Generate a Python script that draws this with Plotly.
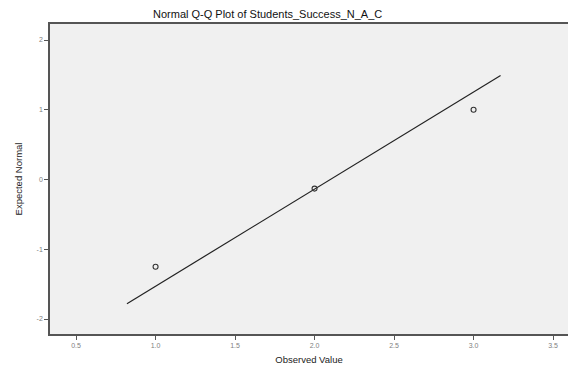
import plotly.graph_objects as go

# Data
observed = [1.0, 2.0, 3.0]
expected = [-1.25, -0.13, 1.0]
line_x = [0.82, 3.17]
line_y = [-1.78, 1.49]
x_ticks = [0.5, 1.0, 1.5, 2.0, 2.5, 3.0, 3.5]
x_tick_labels = ["0.5", "1.0", "1.5", "2.0", "2.5", "3.0", "3.5"]
y_ticks = [-2, -1, 0, 1, 2]
y_tick_labels = ["-2", "-1", "0", "1", "2"]

fig = go.Figure()
fig.add_trace(go.Scatter(
    x=line_x, y=line_y, mode="lines",
    line=dict(color="#222222", width=1.2), showlegend=False, hoverinfo="skip"))
fig.add_trace(go.Scatter(
    x=observed, y=expected, mode="markers",
    marker=dict(symbol="circle-open", size=5, color="#333333", line=dict(width=1.1)),
    showlegend=False))

W, H = 568, 373
L, R, T, B = 50, 0, 24, 39

fig.update_layout(
    width=W, height=H,
    margin=dict(l=L, r=R, t=T, b=B),
    paper_bgcolor="white",
    plot_bgcolor="#f0f0f0",
    font=dict(family="Liberation Sans, Arial, sans-serif", color="#222222"),
    xaxis=dict(
        range=[0.336, 3.594], tickvals=x_ticks, ticktext=x_tick_labels,
        showgrid=False, zeroline=False,
        showline=True, linecolor="#555555", linewidth=1.5, mirror=True,
        ticks="outside", ticklen=4, tickcolor="#555555",
        tickfont=dict(size=7, color="#808080"),
        title=dict(text="Observed Value", font=dict(size=9.5, color="#222222"), standoff=8),
    ),
    yaxis=dict(
        range=[-2.215, 2.23], tickvals=y_ticks, ticktext=y_tick_labels,
        showgrid=False, zeroline=False,
        showline=True, linecolor="#555555", linewidth=1.5, mirror=False,
        ticks="outside", ticklen=4, tickcolor="#555555",
        tickfont=dict(size=7, color="#808080"),
        title=dict(text="Expected Normal", font=dict(size=9.5, color="#222222"), standoff=12),
    ),
    annotations=[dict(
        text="Normal Q-Q Plot of Students_Success_N_A_C",
        xref="paper", yref="paper",
        x=(267 - L) / (W - L - R), y=1 + 10 / (H - T - B),
        xanchor="center", yanchor="middle", showarrow=False,
        font=dict(size=11, color="#111111"),
    )],
)

fig.write_html("out.html")
